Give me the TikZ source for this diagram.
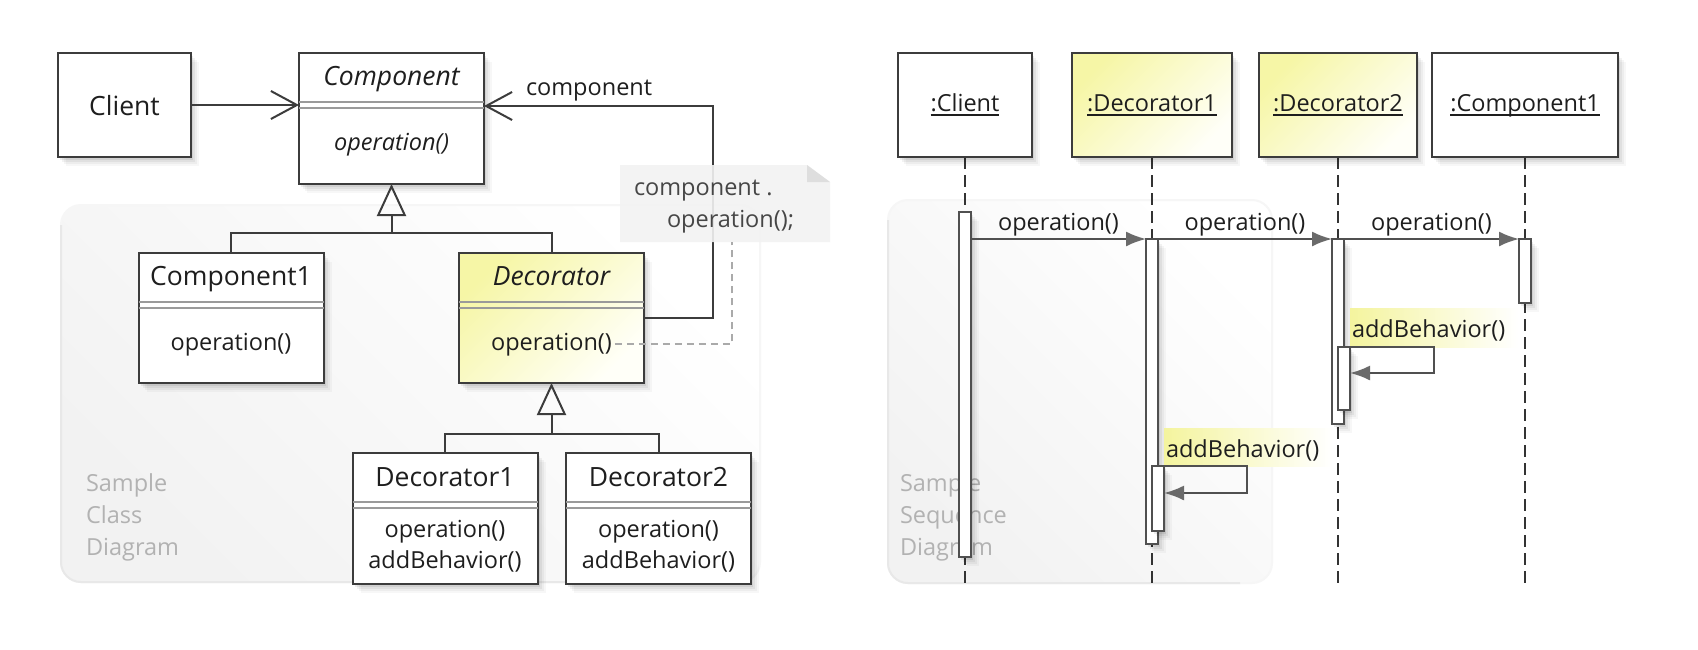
\documentclass[tikz,border=0pt]{standalone}
\usepackage{fontspec}
\setmainfont{Open Sans}
\usetikzlibrary{arrows.meta,shadows,calc}

\definecolor{boxline}{HTML}{3C3C3C}
\definecolor{sepline}{HTML}{9A9A9A}
\definecolor{yel}{RGB}{246,246,166}
\definecolor{yelend}{RGB}{255,255,248}
\definecolor{hlyel}{RGB}{244,244,158}
\definecolor{msgline}{HTML}{505050}
\definecolor{msgtip}{HTML}{6A6A6A}
\definecolor{lifeln}{HTML}{333333}
\definecolor{notefill}{HTML}{F2F2F2}
\definecolor{noteear}{HTML}{DEDEDE}
\definecolor{notetxt}{HTML}{464646}
\definecolor{notelk}{HTML}{AAAAAA}
\definecolor{paneltxt}{HTML}{B2B2B2}
\definecolor{panelfill}{HTML}{F2F2F2}
\definecolor{paneledge}{HTML}{E8E8E8}
\definecolor{paneledgeb}{HTML}{F6F6F6}
\definecolor{txt}{HTML}{1E1E1E}

\newcommand\fsmall{\fontsize{23.5pt}{30pt}\selectfont}
\newcommand\fbig{\fontsize{26.5pt}{32pt}\selectfont}

\tikzset{
  softshadow/.style={
    drop shadow={shadow xshift=2pt,shadow yshift=-3pt,opacity=0.07,fill=black},
    drop shadow={shadow xshift=4pt,shadow yshift=-5pt,opacity=0.05,fill=black},
    drop shadow={shadow xshift=6pt,shadow yshift=-7pt,opacity=0.04,fill=black},
    drop shadow={shadow xshift=8pt,shadow yshift=-9pt,opacity=0.03,fill=black}},
  cbox/.style={draw=boxline, line width=2pt, softshadow},
  whitebox/.style={fill=white},
  yelbox/.style={top color=yel, bottom color=yelend, shading angle=45},
  sepln/.style={draw=sepline, line width=1.5pt},
  cline/.style={draw=boxline, line width=2pt},
  gen/.style={cline, -{Triangle[open, length=32pt, width=29pt]}},
  assoc/.style={cline, -{Straight Barb[length=26pt, width=28pt]}},
  notelink/.style={draw=notelk, line width=1.5pt, dash pattern=on 7pt off 5pt},
  lifeline/.style={draw=lifeln, line width=2pt, dash pattern=on 12pt off 6pt},
  act/.style={draw=msgline, line width=2pt, fill=white, minimum width=12pt, softshadow},
  msg/.style={draw=msgline, line width=2pt, -{Latex[length=20pt, width=15pt, color=msgtip]}},
  msglab/.style={midway, anchor=base, yshift=9pt, font=\fsmall},
  uline/.style={draw=txt, line width=1.5pt},
  paneltext/.style={anchor=base west, font=\fsmall, text=paneltxt},
  nametext/.style={anchor=base, font=\fbig},
  optext/.style={anchor=base, font=\fsmall},
  panelbg/.style={rounded corners=20pt, shading=axis, top color=white, bottom color=panelfill, shading angle=-45},
  panelrim/.style={draw=paneledgeb, line width=2pt, rounded corners=20pt},
  panelrimdark/.style={draw=paneledge, line width=2pt, rounded corners=20pt},
}

\begin{document}
\begin{tikzpicture}[x=1pt, y=-1pt, every node/.style={inner sep=0pt, outer sep=0pt, text=txt}]
\useasboundingbox (0,0) rectangle (1698,649);
\fill[white] (0,0) rectangle (1698,649);

% ---------- background panels ----------
\path[panelbg] (61,205) rectangle (760,582);
\path[panelrim] (61,205) rectangle (760,582);
\path[panelrimdark] (61,225) -- (61,582) -- (700,582);
\path[panelbg] (888,200) rectangle (1272,583);
\path[panelrim] (888,200) rectangle (1272,583);
\path[panelrimdark] (888,220) -- (888,583) -- (1240,583);

\node[paneltext] (lp1) at (86,491) {Sample};
\node[paneltext] (lp2) at (86,523) {Class};
\node[paneltext] (lp3) at (86,555) {Diagram};
\node[paneltext] (rp1) at (900,491) {Sample};
\node[paneltext] (rp2) at (900,523) {Sequence};
\node[paneltext] (rp3) at (900,555) {Diagram};

% ---------- class diagram ----------
% Client
\node[cbox, whitebox, minimum width=133pt, minimum height=104pt] (client) at (124.5,105) {};
\node[nametext] (clientname) at ($(client.center)+(0,10)$) {Client};

% Component
\node[cbox, whitebox, minimum width=185pt, minimum height=131pt] (comp) at (391.5,118.5) {};
\draw[sepln] ($(comp.north west)+(0,49)$) -- ($(comp.north east)+(0,49)$);
\draw[sepln] ($(comp.north west)+(0,55)$) -- ($(comp.north east)+(0,55)$);
\node[nametext, font=\fbig\itshape] (compname) at ($(comp.north)+(0,32)$) {Component};
\node[optext, font=\fsmall\itshape] (compop) at ($(comp.north)+(0,97)$) {operation()};

% Component1
\node[cbox, whitebox, minimum width=185pt, minimum height=130pt] (comp1) at (231,318) {};
\draw[sepln] ($(comp1.north west)+(0,49)$) -- ($(comp1.north east)+(0,49)$);
\draw[sepln] ($(comp1.north west)+(0,55)$) -- ($(comp1.north east)+(0,55)$);
\node[nametext] (comp1name) at ($(comp1.north)+(0,32)$) {Component1};
\node[optext] (comp1op) at ($(comp1.north)+(0,97)$) {operation()};

% Decorator
\node[cbox, yelbox, minimum width=185pt, minimum height=130pt] (dec) at (551.5,318) {};
\draw[sepln] ($(dec.north west)+(0,49)$) -- ($(dec.north east)+(0,49)$);
\draw[sepln] ($(dec.north west)+(0,55)$) -- ($(dec.north east)+(0,55)$);
\node[nametext, font=\fbig\itshape] (decname) at ($(dec.north)+(0,32)$) {Decorator};
\node[optext] (decop) at ($(dec.north)+(0,97)$) {operation()};

% Decorator1
\node[cbox, whitebox, minimum width=185pt, minimum height=131pt] (d1) at (445,518.5) {};
\draw[sepln] ($(d1.north west)+(0,49)$) -- ($(d1.north east)+(0,49)$);
\draw[sepln] ($(d1.north west)+(0,55)$) -- ($(d1.north east)+(0,55)$);
\node[nametext] (d1name) at ($(d1.north)+(0,33)$) {Decorator1};
\node[optext] (d1op1) at ($(d1.north)+(0,84)$) {operation()};
\node[optext] (d1op2) at ($(d1.north)+(0,115)$) {addBehavior()};

% Decorator2
\node[cbox, whitebox, minimum width=185pt, minimum height=131pt] (d2) at (658.5,518.5) {};
\draw[sepln] ($(d2.north west)+(0,49)$) -- ($(d2.north east)+(0,49)$);
\draw[sepln] ($(d2.north west)+(0,55)$) -- ($(d2.north east)+(0,55)$);
\node[nametext] (d2name) at ($(d2.north)+(0,33)$) {Decorator2};
\node[optext] (d2op1) at ($(d2.north)+(0,84)$) {operation()};
\node[optext] (d2op2) at ($(d2.north)+(0,115)$) {addBehavior()};

% generalizations
\coordinate (j1) at ($(comp.south)+(0,49)$);
\draw[cline] (comp1.north) |- (j1) -| (dec.north);
\draw[gen] (j1) -- (comp.south);
\coordinate (j2) at ($(dec.south)+(0,51)$);
\draw[cline] (d1.north) |- (j2) -| (d2.north);
\draw[gen] (j2) -- (dec.south);

% associations
\draw[assoc] (client.east) -- (client.east -| comp.west);
\draw[assoc] (dec.east) -- ++(69,0) |- ([yshift=12.5pt]comp.east);
\node[anchor=base west, font=\fsmall] (role) at (526,95) {component};

% note
\node[minimum width=210pt, minimum height=77pt] (note) at (725,203.5) {};
\fill[notefill, opacity=0.9] (note.north west) -- ([xshift=-23pt]note.north east) -- ([yshift=-17pt]note.north east) -- (note.south east) -- (note.south west) -- cycle;
\fill[noteear] ([xshift=-23pt]note.north east) -- ([yshift=-17pt]note.north east) -- ([xshift=-23pt,yshift=-17pt]note.north east) -- cycle;
\node[anchor=base west, font=\fsmall, text=notetxt] (nt1) at (634,195) {component .};
\node[anchor=base west, font=\fsmall, text=notetxt] (nt2) at (667,227) {operation();};
\draw[notelink] ([xshift=3pt]decop.east) -| ($(note.south west)+(112,0)$);

% ---------- sequence diagram ----------
\coordinate (ec) at (965,585);
\coordinate (e1) at (1152,585);
\coordinate (e2) at (1338,585);
\coordinate (e3) at (1525,585);
\draw[lifeline] (965,157) -- (ec);
\draw[lifeline] (1152,157) -- (e1);
\draw[lifeline] (1338,157) -- (e2);
\draw[lifeline] (1525,157) -- (e3);

\node[cbox, whitebox, minimum width=134pt, minimum height=104pt] (hc) at (965,105) {};
\node[cbox, yelbox, minimum width=160pt, minimum height=104pt] (h1) at (1152,105) {};
\node[cbox, yelbox, minimum width=158pt, minimum height=104pt] (h2) at (1338,105) {};
\node[cbox, whitebox, minimum width=186pt, minimum height=104pt] (h3) at (1525,105) {};

\node[optext] (hct) at ($(hc.center)+(0,6)$) {:Client};
\node[optext] (h1t) at ($(h1.center)+(0,6)$) {:Decorator1};
\node[optext] (h2t) at ($(h2.center)+(0,6)$) {:Decorator2};
\node[optext] (h3t) at ($(h3.center)+(0,6)$) {:Component1};
\draw[uline] ([yshift=-4pt]hct.base west) -- ([yshift=-4pt]hct.base east);
\draw[uline] ([yshift=-4pt]h1t.base west) -- ([yshift=-4pt]h1t.base east);
\draw[uline] ([yshift=-4pt]h2t.base west) -- ([yshift=-4pt]h2t.base east);
\draw[uline] ([yshift=-4pt]h3t.base west) -- ([yshift=-4pt]h3t.base east);

% activations
\node[act, minimum height=345pt] (actc) at (965,384.5) {};
\node[act, minimum height=305pt] (act1) at (1152,391.5) {};
\node[act, minimum height=65pt] (act1n) at (1158,498.5) {};
\node[act, minimum height=185pt] (act2) at (1338,331.5) {};
\node[act, minimum height=63pt] (act2n) at (1344,378.5) {};
\node[act, minimum height=64pt] (act3) at (1525,271) {};

% messages
\draw[msg] (actc.east |- act1.north) -- node[msglab] (m1) {operation()} (act1.north west);
\draw[msg] (act1.north east) -- node[msglab] (m2) {operation()} (act2.north west);
\draw[msg] (act2.north east) -- node[msglab] (m3) {operation()} (act3.north west);

% self calls
\fill[left color=hlyel, right color=white] ($(act2n.north east)+(0,-39)$) rectangle ($(act2n.north east)+(168,0)$);
\node[anchor=base west, font=\fsmall] (ab2) at ($(act2n.north east)+(2,-10)$) {addBehavior()};
\draw[msg] (act2n.north east) -- ++(84,0) -- ++(0,26) -- ($(act2n.north east)+(0,26)$);

\fill[left color=hlyel, right color=white] ($(act1n.north east)+(0,-38)$) rectangle ($(act1n.north east)+(168,0)$);
\node[anchor=base west, font=\fsmall] (ab1) at ($(act1n.north east)+(2,-9)$) {addBehavior()};
\draw[msg] (act1n.north east) -- ++(83,0) -- ++(0,27) -- ($(act1n.north east)+(0,27)$);
\end{tikzpicture}
\end{document}
